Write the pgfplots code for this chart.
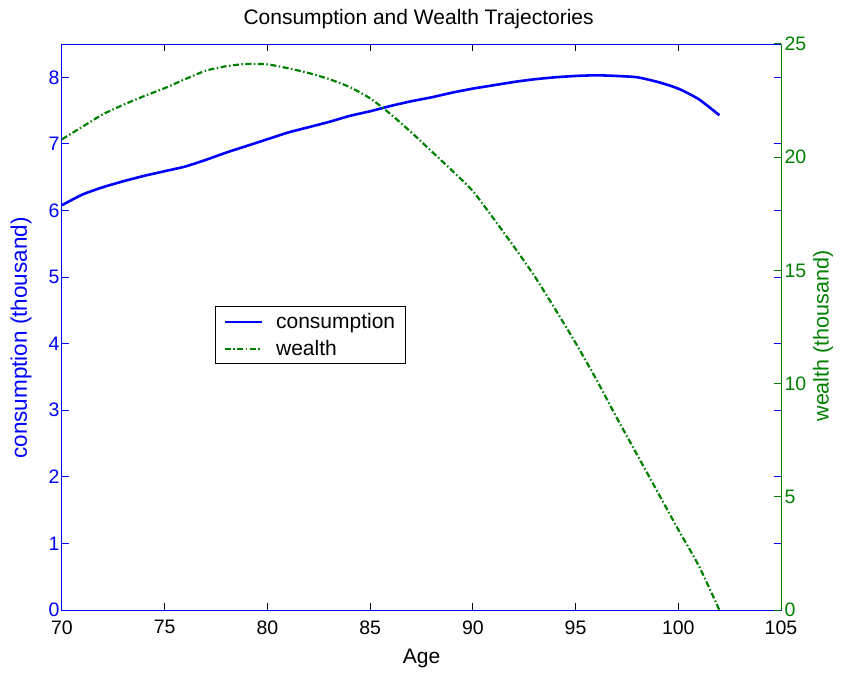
\documentclass[border=0pt]{standalone}
\usepackage{pgfplots}
\pgfplotsset{compat=1.18}
\usepackage{pgfplotstable}
\usepackage{fontspec}
\setmainfont{Liberation Sans}
\definecolor{mblue}{RGB}{0,0,255}
\definecolor{mgreen}{RGB}{0,128,0}

\pgfplotstableread{
age c
70 6.08
71 6.24
72 6.35
73 6.44
74 6.52
75 6.59
76 6.66
77 6.76
78 6.87
79 6.97
80 7.07
81 7.17
82 7.25
83 7.33
84 7.42
85 7.49
86 7.57
87 7.64
88 7.70
89 7.77
90 7.83
91 7.88
92 7.93
93 7.97
94 8.00
95 8.02
96 8.03
97 8.02
98 8.00
99 7.93
100 7.83
101 7.67
102 7.43
}\consumption

\pgfplotstableread{
age w
70 20.79
71 21.35
72 21.90
73 22.32
74 22.70
75 23.05
76 23.45
77 23.82
78 24.02
79 24.12
80 24.10
81 23.93
82 23.72
83 23.45
84 23.10
85 22.60
86 21.90
87 21.10
88 20.25
89 19.40
90 18.50
91 17.30
92 16.05
93 14.75
94 13.30
95 11.80
96 10.20
97 8.50
98 6.85
99 5.20
100 3.55
101 1.95
102 0.00
}\wealth

\begin{document}
\begin{tikzpicture}[font=\fontsize{20}{24}\selectfont]
\path[use as bounding box] (-62pt,-63pt) rectangle (779pt,610pt);
\begin{axis}[
  at={(0pt,0pt)}, anchor=south west,
  scale only axis, width=719pt, height=566pt,
  xmin=70, xmax=105, ymin=0, ymax=8.5,
  xtick={70,75,...,105}, ytick={0,1,...,8},
  tick align=inside, major tick length=7pt,
  xtick pos=both, ytick pos=both,
  xticklabel pos=bottom, yticklabel pos=left,
  /pgf/number format/assume math mode=true,
  axis line style={line width=1pt},
  x axis line style={black},
  y axis line style={mblue},
  every tick/.style={line width=1pt},
  x tick style={black},
  y tick style={mblue},
  yticklabel style={text=mblue, font=\fontsize{19.5}{22}\selectfont, xshift=1pt},
  xticklabel style={font=\fontsize{19.5}{22}\selectfont, yshift=-7pt},
  title={Consumption and Wealth Trajectories},
  title style={at={(axis description cs:0.496,1.0459)}, anchor=center, yshift=-7pt, font=\fontsize{21}{24}\selectfont},
  xlabel={Age},
  xlabel style={at={(axis description cs:0.5,-0.0848)}, anchor=center, font=\fontsize{21}{24}\selectfont},
  ylabel={consumption (thousand)},
  ylabel style={at={(axis description cs:-0.0570,0.4806)}, rotate=0, anchor=center, text=mblue, font=\fontsize{22.5}{26}\selectfont},
  legend style={at={(axis description cs:0.2128,0.537)}, anchor=north west, draw=black, line width=1pt,
    font=\fontsize{21}{24}\selectfont, inner xsep=8pt, inner ysep=5pt,
    nodes={inner sep=2pt}, row sep=6pt,
    /tikz/every odd column/.append style={column sep=11pt}},
  legend cell align=left,
  legend image code/.code={\draw[#1] (0pt,0pt) -- (37pt,0pt);},
]
\addplot[mblue, line width=2.6pt, smooth, tension=0.4] table[x=age, y=c] {\consumption};
\addlegendentry{consumption}
\addlegendimage{mgreen, line width=2.2pt, dash pattern=on 6pt off 2.5pt on 1.5pt off 2.5pt}
\addlegendentry{wealth}
\end{axis}
\begin{axis}[
  at={(0pt,0pt)}, anchor=south west,
  scale only axis, width=719pt, height=566pt,
  xmin=70, xmax=105, ymin=0, ymax=25,
  axis x line=none, axis y line*=right,
  ytick={0,5,...,25},
  tick align=inside, major tick length=7pt,
  /pgf/number format/assume math mode=true,
  axis line style={line width=1pt, mgreen, -},
  every tick/.style={line width=1pt, mgreen},
  yticklabel style={text=mgreen, font=\fontsize{19.5}{22}\selectfont},
  ylabel={wealth (thousand)},
  ylabel style={at={(axis description cs:1.0584,0.484)}, rotate=0, anchor=center, text=mgreen, font=\fontsize{21.5}{24}\selectfont},
]
\addplot[mgreen, line width=2.2pt, dash pattern=on 6pt off 2.5pt on 1.5pt off 2.5pt, smooth, tension=0.4] table[x=age, y=w] {\wealth};
\end{axis}
\end{tikzpicture}
\end{document}
